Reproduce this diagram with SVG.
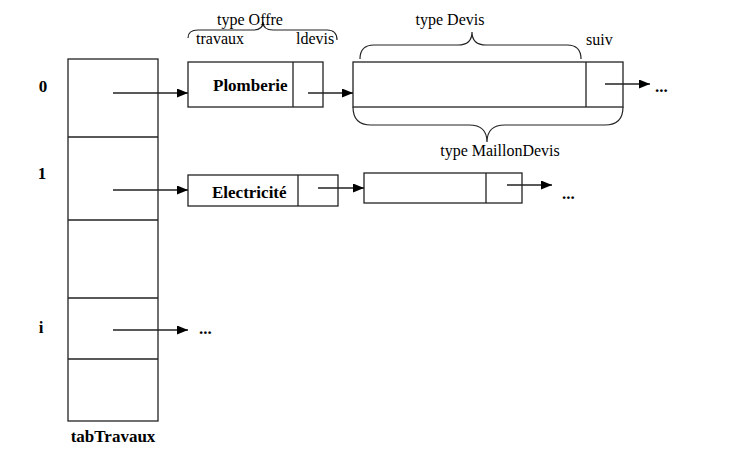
<svg xmlns="http://www.w3.org/2000/svg" width="739" height="449" viewBox="0 0 739 449">
<style>
.box{fill:#fff;stroke:#222;stroke-width:1.3}
.ln{fill:none;stroke:#222;stroke-width:1.3}
.br{fill:none;stroke:#222;stroke-width:1.2}
.t{font-family:"Liberation Serif","Times New Roman",serif;font-size:16px;fill:#000}
.b{font-weight:bold;font-size:17px}
</style>
<defs>
<marker id="ah" viewBox="0 0 11 9" refX="11" refY="4.5" markerWidth="11" markerHeight="9" markerUnits="userSpaceOnUse" orient="auto">
<path d="M0,0 L11,4.5 L0,9 Z" fill="#000"/>
</marker>
</defs>
<rect width="739" height="449" fill="#fff"/>
<g id="tabTravaux">
<rect class="box" x="68" y="59" width="90" height="362"/>
<line class="ln" x1="68" y1="137" x2="158" y2="137"/>
<line class="ln" x1="68" y1="220" x2="158" y2="220"/>
<line class="ln" x1="68" y1="298" x2="158" y2="298"/>
<line class="ln" x1="68" y1="359" x2="158" y2="359"/>
<text class="t b" x="113" y="442" text-anchor="middle">tabTravaux</text>
<text class="t b" x="43" y="92" text-anchor="middle">0</text>
<text class="t b" x="42" y="179" text-anchor="middle">1</text>
<text class="t b" x="41" y="333" text-anchor="middle">i</text>
</g>
<g id="offre0">
<rect class="box" x="188" y="62" width="135" height="45"/>
<line class="ln" x1="293" y1="62" x2="293" y2="107"/>
<text class="t b" x="213" y="91">Plomberie</text>
</g>
<g id="offreLabels">
<path class="br" d="M188,38 Q188,30 198,30 L253,30 Q263,30 263,22 Q263,30 273,30 L327,30 Q337,30 337,40"/>
<text class="t" x="250" y="25" text-anchor="middle">type Offre</text>
<text class="t" x="196" y="44">travaux</text>
<text class="t" x="296" y="44">ldevis</text>
</g>
<g id="devis0">
<rect class="box" x="353" y="62" width="270" height="45"/>
<line class="ln" x1="586" y1="62" x2="586" y2="107"/>
</g>
<g id="devisLabels">
<path class="br" d="M360,59 Q360,45 374,45 L458,45 Q472,45 472,32 Q472,45 486,45 L567,45 Q581,45 581,59"/>
<text class="t" x="450" y="25" text-anchor="middle">type Devis</text>
<text class="t" x="586" y="45">suiv</text>
<path class="br" d="M353,107 Q353,125 371,125 L469,125 Q487,125 487,142 Q487,125 505,125 L605,125 Q623,125 623,107"/>
<text class="t" x="500" y="156" text-anchor="middle">type MaillonDevis</text>
</g>
<g id="offre1">
<rect class="box" x="188" y="175" width="150" height="31"/>
<line class="ln" x1="298" y1="175" x2="298" y2="206"/>
<text class="t b" x="212" y="198">Electricité</text>
</g>
<g id="devis1">
<rect class="box" x="364" y="173" width="158" height="30"/>
<line class="ln" x1="486" y1="173" x2="486" y2="203"/>
</g>
<g id="connectors">
<line class="ln" x1="113" y1="93" x2="188" y2="93" marker-end="url(#ah)"/>
<line class="ln" x1="113" y1="190" x2="188" y2="190" marker-end="url(#ah)"/>
<line class="ln" x1="113" y1="330" x2="188" y2="330" marker-end="url(#ah)"/>
<line class="ln" x1="308" y1="93" x2="353" y2="93" marker-end="url(#ah)"/>
<line class="ln" x1="605" y1="84" x2="650" y2="84" marker-end="url(#ah)"/>
<line class="ln" x1="318" y1="188" x2="364" y2="188" marker-end="url(#ah)"/>
<line class="ln" x1="507" y1="185" x2="552" y2="185" marker-end="url(#ah)"/>
</g>
<text class="t b" x="655" y="92">...</text>
<text class="t b" x="562" y="199">...</text>
<text class="t b" x="199" y="334">...</text>
</svg>
